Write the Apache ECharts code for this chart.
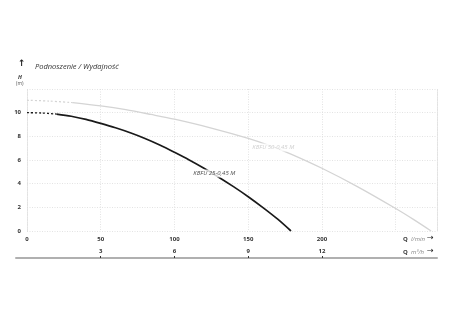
<!DOCTYPE html>
<html>
<head>
<meta charset="utf-8">
<script src="https://cdn.jsdelivr.net/npm/echarts@6/dist/echarts.min.js"></script>
<style>html,body{margin:0;padding:0;background:#fff;}#c{width:450px;height:321px;}</style>
</head>
<body>
<div id="c"></div>
<script>
// Flow in l/min, head in m
const blackDashed = [[0, 10.0], [10, 9.97], [20, 9.88]];
const blackSolid = [[20, 9.88], [30, 9.7], [40, 9.43], [50, 9.09], [60, 8.72], [70, 8.3], [80, 7.82], [90, 7.27], [100, 6.65], [110, 6.0], [120, 5.3], [130, 4.55], [140, 3.75], [150, 2.9], [160, 1.98], [170, 1.0], [179, 0.0]];
const greyDashed = [[0, 11.05], [15, 10.98], [31, 10.85]];
const greySolid = [[31, 10.85], [50, 10.57], [67, 10.25], [84, 9.85], [100, 9.45], [125, 8.7], [150, 7.83], [165, 7.2], [179, 6.5], [200, 5.3], [224, 3.75], [250, 1.9], [262, 0.98], [274, 0.0]];
const blackName = 'KBFU 25-0,45 M';
const greyName = 'KBFU 50-0,45 M';
const blackLabelPos = [127, 4.85];
const greyLabelPos = [167, 7.05];
const flowTicks = [0, 50, 100, 150, 200];
const m3hTicks = [3, 6, 9, 12];
const headTicks = [0, 2, 4, 6, 8, 10];

const chart = echarts.init(document.getElementById('c'));
const FONT = 'Open Sans';
const tickLabel = {fontSize: 6, fontWeight: 'bold', color: '#333', fontFamily: FONT};
const gridLine = {show: true, lineStyle: {color: '#dcdcdc', type: [1, 1.5], width: 0.8}};

chart.setOption({
  animation: false,
  backgroundColor: '#fff',
  title: {
    text: 'Podnoszenie / Wydajność', left: 30, top: 58,
    textStyle: {fontSize: 7.5, fontStyle: 'italic', fontWeight: 'normal', color: '#333', fontFamily: FONT}
  },
  grid: [
    {left: 27, right: 13, top: 89, bottom: 90},
    {left: 16, right: 13, top: 240, bottom: 63}
  ],
  xAxis: [
    {
      type: 'value', gridIndex: 0, min: 0, max: 278, interval: 50,
      axisLine: {show: false}, axisTick: {show: false},
      axisLabel: Object.assign({margin: 5, customValues: flowTicks}, tickLabel),
      splitLine: gridLine
    },
    {
      type: 'value', gridIndex: 1, min: -0.447, max: 16.68,
      axisLine: {show: true, lineStyle: {color: '#b0b0b0', width: 2}},
      axisTick: {show: true, inside: true, length: 2, customValues: m3hTicks, lineStyle: {color: '#333', width: 1}},
      axisLabel: Object.assign({inside: true, margin: 4, customValues: m3hTicks}, tickLabel),
      splitLine: {show: false}
    }
  ],
  yAxis: [
    {
      type: 'value', gridIndex: 0, min: 0, max: 12, interval: 2,
      axisLine: {show: true, lineStyle: {color: '#dcdcdc', type: [1, 1.5], width: 0.8}},
      axisTick: {show: false},
      axisLabel: Object.assign({margin: 6, customValues: headTicks}, tickLabel),
      splitLine: gridLine
    },
    {
      type: 'value', gridIndex: 0, min: 0, max: 12, position: 'right',
      axisLine: {show: true, lineStyle: {color: '#dcdcdc', type: [1, 1.5], width: 0.8}},
      axisTick: {show: false}, axisLabel: {show: false}, splitLine: {show: false}
    },
    {type: 'value', gridIndex: 1, show: false}
  ],
  graphic: [
    {type: 'text', left: 18, top: 59, style: {text: '↑', fontSize: 9, fontWeight: 'bold', fill: '#222', fontFamily: 'DejaVu Sans'}},
    {type: 'text', left: 18, top: 74, style: {text: 'H', fontSize: 5.5, fontWeight: 'bold', fontStyle: 'italic', fill: '#333', fontFamily: FONT}},
    {type: 'text', left: 16, top: 81, style: {text: '(m)', fontSize: 5, fill: '#555', fontFamily: FONT}},
    {type: 'text', left: 403, top: 233, style: {rich: {b: {fontSize: 6, fontWeight: 'bold', fill: '#333', fontFamily: FONT}, n: {fontSize: 6, fontStyle: 'italic', fill: '#888', fontFamily: FONT}}, text: '{b|Q} {n|l/min}'}},
    {type: 'text', left: 427, top: 234, style: {text: '→', fontSize: 8, fill: '#222', fontFamily: 'DejaVu Sans'}},
    {type: 'text', left: 403, top: 246, style: {rich: {b: {fontSize: 6, fontWeight: 'bold', fill: '#333', fontFamily: FONT}, n: {fontSize: 6, fontStyle: 'italic', fill: '#888', fontFamily: FONT}}, text: '{b|Q} {n|m³/h}'}},
    {type: 'text', left: 427, top: 247, style: {text: '→', fontSize: 8, fill: '#222', fontFamily: 'DejaVu Sans'}}
  ],
  series: [
    {type: 'line', xAxisIndex: 0, yAxisIndex: 0, data: greyDashed, symbol: 'none', smooth: 0.3, lineStyle: {color: '#d4d4d4', width: 1.2, type: [2, 2]}},
    {type: 'line', xAxisIndex: 0, yAxisIndex: 0, data: greySolid, symbol: 'none', smooth: 0.3, lineStyle: {color: '#d4d4d4', width: 1.3}},
    {type: 'line', xAxisIndex: 0, yAxisIndex: 0, data: blackDashed, symbol: 'none', smooth: 0.3, lineStyle: {color: '#1a1a1a', width: 1.3, type: [2, 2]}},
    {type: 'line', xAxisIndex: 0, yAxisIndex: 0, data: blackSolid, symbol: 'none', smooth: 0.3, lineStyle: {color: '#1a1a1a', width: 1.7}},
    {type: 'scatter', xAxisIndex: 0, yAxisIndex: 0, data: [greyLabelPos], symbolSize: 0, z: 5,
      label: {show: true, position: 'inside', formatter: greyName, fontSize: 6, fontStyle: 'italic', color: '#c4c4c4', backgroundColor: '#fff', padding: [1, 2], fontFamily: FONT}},
    {type: 'scatter', xAxisIndex: 0, yAxisIndex: 0, data: [blackLabelPos], symbolSize: 0, z: 5,
      label: {show: true, position: 'inside', formatter: blackName, fontSize: 6, fontStyle: 'italic', color: '#222', backgroundColor: '#fff', padding: [1, 2], fontFamily: FONT}}
  ]
});
</script>
</body>
</html>
